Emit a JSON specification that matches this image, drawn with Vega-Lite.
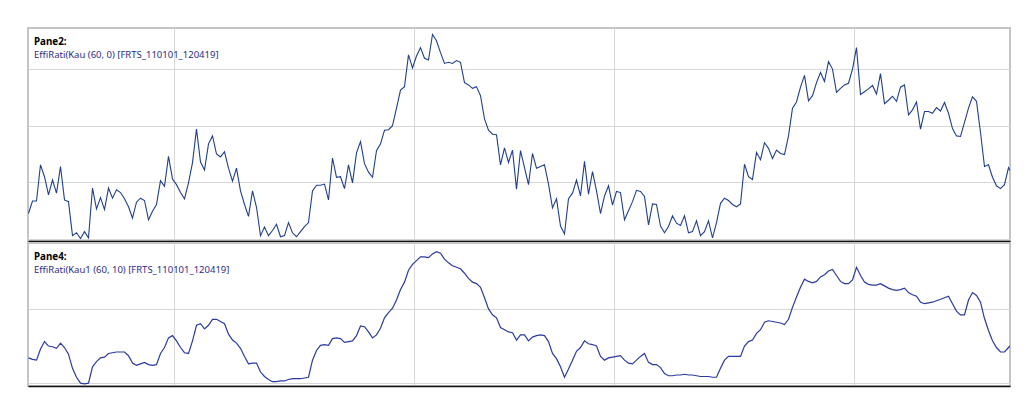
{
  "$schema": "https://vega.github.io/schema/vega-lite/v6.json",
  "background": "white",
  "padding": {"left": 27, "top": 27, "right": 26, "bottom": 29},
  "spacing": 0,
  "config": {
    "view": {"stroke": "#c4c4c4", "strokeWidth": 2},
    "axis": {
      "grid": true,
      "gridColor": "#d7d7d7",
      "gridWidth": 1,
      "labels": false,
      "ticks": false,
      "title": null,
      "minExtent": 0,
      "maxExtent": 0
    },
    "title": {
      "font": "Noto Sans",
      "fontSize": 9.8,
      "fontWeight": "bold",
      "color": "#000000",
      "subtitleFont": "Noto Sans",
      "subtitleFontSize": 9.5,
      "subtitleColor": "#2b2b8a",
      "subtitlePadding": 3,
      "anchor": "start",
      "frame": "group",
      "offset": -31,
      "dx": 6
    }
  },
  "datasets": {
    "effi": [
      {"t":0,"a":0.045,"b":0.034},{"t":1,"a":0.067,"b":0.032},{"t":2,"a":0.067,"b":0.031},{"t":3,"a":0.131,"b":0.046},
      {"t":4,"a":0.110,"b":0.056},{"t":5,"a":0.078,"b":0.050},{"t":6,"a":0.104,"b":0.049},{"t":7,"a":0.081,"b":0.047},
      {"t":8,"a":0.128,"b":0.054},{"t":9,"a":0.069,"b":0.048},{"t":10,"a":0.066,"b":0.039},{"t":11,"a":0.006,"b":0.020},
      {"t":12,"a":0.011,"b":0.008},{"t":13,"a":0.001,"b":0.000},{"t":14,"a":0.013,"b":-0.001},{"t":15,"a":0.002,"b":0.000},
      {"t":16,"a":0.090,"b":0.022},{"t":17,"a":0.053,"b":0.029},{"t":18,"a":0.073,"b":0.034},{"t":19,"a":0.052,"b":0.035},
      {"t":20,"a":0.090,"b":0.040},{"t":21,"a":0.072,"b":0.041},{"t":22,"a":0.087,"b":0.042},{"t":23,"a":0.082,"b":0.042},
      {"t":24,"a":0.071,"b":0.042},{"t":25,"a":0.057,"b":0.037},{"t":26,"a":0.037,"b":0.027},{"t":27,"a":0.065,"b":0.024},
      {"t":28,"a":0.072,"b":0.026},{"t":29,"a":0.068,"b":0.028},{"t":30,"a":0.034,"b":0.025},{"t":31,"a":0.049,"b":0.024},
      {"t":32,"a":0.061,"b":0.025},{"t":33,"a":0.103,"b":0.040},{"t":34,"a":0.093,"b":0.048},{"t":35,"a":0.146,"b":0.061},
      {"t":36,"a":0.106,"b":0.064},{"t":37,"a":0.096,"b":0.057},{"t":38,"a":0.082,"b":0.048},{"t":39,"a":0.071,"b":0.041},
      {"t":40,"a":0.099,"b":0.040},{"t":41,"a":0.135,"b":0.057},{"t":42,"a":0.194,"b":0.078},{"t":43,"a":0.136,"b":0.080},
      {"t":44,"a":0.122,"b":0.073},{"t":45,"a":0.168,"b":0.078},{"t":46,"a":0.182,"b":0.086},{"t":47,"a":0.150,"b":0.086},
      {"t":48,"a":0.145,"b":0.083},{"t":49,"a":0.154,"b":0.080},{"t":50,"a":0.125,"b":0.066},{"t":51,"a":0.102,"b":0.058},
      {"t":52,"a":0.125,"b":0.054},{"t":53,"a":0.085,"b":0.047},{"t":54,"a":0.061,"b":0.036},{"t":55,"a":0.040,"b":0.026},
      {"t":56,"a":0.085,"b":0.027},{"t":57,"a":0.056,"b":0.027},{"t":58,"a":0.006,"b":0.015},{"t":59,"a":0.021,"b":0.009},
      {"t":60,"a":0.006,"b":0.005},{"t":61,"a":0.015,"b":0.002},{"t":62,"a":0.026,"b":0.002},{"t":63,"a":0.004,"b":0.003},
      {"t":64,"a":0.006,"b":0.003},{"t":65,"a":0.029,"b":0.005},{"t":66,"a":0.011,"b":0.006},{"t":67,"a":0.004,"b":0.006},
      {"t":68,"a":0.013,"b":0.006},{"t":69,"a":0.022,"b":0.007},{"t":70,"a":0.029,"b":0.008},{"t":71,"a":0.085,"b":0.031},
      {"t":72,"a":0.095,"b":0.044},{"t":73,"a":0.095,"b":0.051},{"t":74,"a":0.097,"b":0.052},{"t":75,"a":0.069,"b":0.051},
      {"t":76,"a":0.143,"b":0.060},{"t":77,"a":0.109,"b":0.061},{"t":78,"a":0.110,"b":0.060},{"t":79,"a":0.089,"b":0.055},
      {"t":80,"a":0.131,"b":0.056},{"t":81,"a":0.099,"b":0.057},{"t":82,"a":0.152,"b":0.064},{"t":83,"a":0.172,"b":0.077},
      {"t":84,"a":0.133,"b":0.076},{"t":85,"a":0.118,"b":0.069},{"t":86,"a":0.109,"b":0.061},{"t":87,"a":0.156,"b":0.065},
      {"t":88,"a":0.168,"b":0.074},{"t":89,"a":0.192,"b":0.088},{"t":90,"a":0.193,"b":0.095},{"t":91,"a":0.200,"b":0.101},
      {"t":92,"a":0.231,"b":0.112},{"t":93,"a":0.263,"b":0.126},{"t":94,"a":0.269,"b":0.136},{"t":95,"a":0.325,"b":0.152},
      {"t":96,"a":0.302,"b":0.160},{"t":97,"a":0.323,"b":0.165},{"t":98,"a":0.338,"b":0.170},{"t":99,"a":0.319,"b":0.170},
      {"t":100,"a":0.316,"b":0.169},{"t":101,"a":0.361,"b":0.174},{"t":102,"a":0.350,"b":0.177},{"t":103,"a":0.329,"b":0.175},
      {"t":104,"a":0.310,"b":0.167},{"t":105,"a":0.312,"b":0.162},{"t":106,"a":0.310,"b":0.158},{"t":107,"a":0.315,"b":0.156},
      {"t":108,"a":0.312,"b":0.154},{"t":109,"a":0.276,"b":0.148},{"t":110,"a":0.272,"b":0.141},{"t":111,"a":0.266,"b":0.136},
      {"t":112,"a":0.269,"b":0.134},{"t":113,"a":0.253,"b":0.129},{"t":114,"a":0.212,"b":0.115},{"t":115,"a":0.192,"b":0.100},
      {"t":116,"a":0.185,"b":0.092},{"t":117,"a":0.184,"b":0.088},{"t":118,"a":0.131,"b":0.075},{"t":119,"a":0.161,"b":0.072},
      {"t":120,"a":0.135,"b":0.069},{"t":121,"a":0.157,"b":0.068},{"t":122,"a":0.088,"b":0.058},{"t":123,"a":0.156,"b":0.065},
      {"t":124,"a":0.126,"b":0.065},{"t":125,"a":0.096,"b":0.057},{"t":126,"a":0.151,"b":0.062},{"t":127,"a":0.125,"b":0.064},
      {"t":128,"a":0.128,"b":0.065},{"t":129,"a":0.131,"b":0.064},{"t":130,"a":0.097,"b":0.056},{"t":131,"a":0.055,"b":0.040},
      {"t":132,"a":0.071,"b":0.033},{"t":133,"a":0.023,"b":0.022},{"t":134,"a":0.009,"b":0.008},{"t":135,"a":0.071,"b":0.019},
      {"t":136,"a":0.081,"b":0.031},{"t":137,"a":0.104,"b":0.043},{"t":138,"a":0.076,"b":0.048},{"t":139,"a":0.137,"b":0.057},
      {"t":140,"a":0.079,"b":0.053},{"t":141,"a":0.119,"b":0.052},{"t":142,"a":0.085,"b":0.050},{"t":143,"a":0.045,"b":0.036},
      {"t":144,"a":0.076,"b":0.031},{"t":145,"a":0.094,"b":0.034},{"t":146,"a":0.060,"b":0.035},{"t":147,"a":0.084,"b":0.036},
      {"t":148,"a":0.082,"b":0.037},{"t":149,"a":0.034,"b":0.031},{"t":150,"a":0.050,"b":0.027},{"t":151,"a":0.066,"b":0.026},
      {"t":152,"a":0.086,"b":0.031},{"t":153,"a":0.084,"b":0.036},{"t":154,"a":0.075,"b":0.040},{"t":155,"a":0.025,"b":0.028},
      {"t":156,"a":0.062,"b":0.025},{"t":157,"a":0.061,"b":0.025},{"t":158,"a":0.023,"b":0.021},{"t":159,"a":0.011,"b":0.013},
      {"t":160,"a":0.022,"b":0.010},{"t":161,"a":0.041,"b":0.010},{"t":162,"a":0.028,"b":0.011},{"t":163,"a":0.024,"b":0.011},
      {"t":164,"a":0.041,"b":0.012},{"t":165,"a":0.011,"b":0.011},{"t":166,"a":0.013,"b":0.011},{"t":167,"a":0.032,"b":0.010},
      {"t":168,"a":0.006,"b":0.009},{"t":169,"a":0.013,"b":0.009},{"t":170,"a":0.032,"b":0.009},{"t":171,"a":0.002,"b":0.008},
      {"t":172,"a":0.029,"b":0.008},{"t":173,"a":0.063,"b":0.020},{"t":174,"a":0.072,"b":0.031},{"t":175,"a":0.068,"b":0.036},
      {"t":176,"a":0.061,"b":0.036},{"t":177,"a":0.057,"b":0.036},{"t":178,"a":0.062,"b":0.036},{"t":179,"a":0.132,"b":0.050},
      {"t":180,"a":0.110,"b":0.056},{"t":181,"a":0.105,"b":0.058},{"t":182,"a":0.153,"b":0.067},{"t":183,"a":0.140,"b":0.072},
      {"t":184,"a":0.170,"b":0.082},{"t":185,"a":0.160,"b":0.084},{"t":186,"a":0.142,"b":0.083},{"t":187,"a":0.157,"b":0.082},
      {"t":188,"a":0.151,"b":0.081},{"t":189,"a":0.149,"b":0.079},{"t":190,"a":0.182,"b":0.086},{"t":191,"a":0.231,"b":0.102},
      {"t":192,"a":0.242,"b":0.116},{"t":193,"a":0.268,"b":0.129},{"t":194,"a":0.289,"b":0.140},{"t":195,"a":0.244,"b":0.137},
      {"t":196,"a":0.253,"b":0.135},{"t":197,"a":0.276,"b":0.137},{"t":198,"a":0.294,"b":0.143},{"t":199,"a":0.278,"b":0.146},
      {"t":200,"a":0.313,"b":0.151},{"t":201,"a":0.300,"b":0.153},{"t":202,"a":0.259,"b":0.145},{"t":203,"a":0.266,"b":0.137},
      {"t":204,"a":0.272,"b":0.134},{"t":205,"a":0.275,"b":0.134},{"t":206,"a":0.300,"b":0.139},{"t":207,"a":0.338,"b":0.156},
      {"t":208,"a":0.255,"b":0.145},{"t":209,"a":0.260,"b":0.136},{"t":210,"a":0.265,"b":0.133},{"t":211,"a":0.271,"b":0.132},
      {"t":212,"a":0.256,"b":0.132},{"t":213,"a":0.292,"b":0.134},{"t":214,"a":0.239,"b":0.131},{"t":215,"a":0.245,"b":0.128},
      {"t":216,"a":0.252,"b":0.126},{"t":217,"a":0.243,"b":0.125},{"t":218,"a":0.268,"b":0.126},{"t":219,"a":0.272,"b":0.128},
      {"t":220,"a":0.219,"b":0.122},{"t":221,"a":0.228,"b":0.119},{"t":222,"a":0.242,"b":0.117},{"t":223,"a":0.194,"b":0.109},
      {"t":224,"a":0.225,"b":0.107},{"t":225,"a":0.225,"b":0.108},{"t":226,"a":0.222,"b":0.109},{"t":227,"a":0.232,"b":0.111},
      {"t":228,"a":0.226,"b":0.113},{"t":229,"a":0.241,"b":0.115},{"t":230,"a":0.222,"b":0.117},{"t":231,"a":0.195,"b":0.107},
      {"t":232,"a":0.182,"b":0.097},{"t":233,"a":0.181,"b":0.092},{"t":234,"a":0.206,"b":0.092},{"t":235,"a":0.231,"b":0.112},
      {"t":236,"a":0.251,"b":0.122},{"t":237,"a":0.243,"b":0.118},{"t":238,"a":0.188,"b":0.109},{"t":239,"a":0.128,"b":0.087},
      {"t":240,"a":0.131,"b":0.071},{"t":241,"a":0.109,"b":0.057},{"t":242,"a":0.094,"b":0.048},{"t":243,"a":0.089,"b":0.042},
      {"t":244,"a":0.096,"b":0.042},{"t":245,"a":0.126,"b":0.048},{"t":245.375,"a":0.121,"b":0.050}
    ]
  },
  "vconcat": [
    {
      "width": 982,
      "height": 213,
      "data": {"name": "effi"},
      "title": {
        "text": "Pane2:",
        "subtitle": "EffiRati(Kau (60, 0) [FRTS_110101_120419]"
      },
      "mark": {"type": "line", "color": "#203f8c", "strokeWidth": 1.1, "clip": true},
      "encoding": {
        "x": {
          "field": "t",
          "type": "quantitative",
          "scale": {"domain": [-0.125, 245.375], "nice": false, "zero": false},
          "axis": {"values": [36.45, 96.45, 146.45, 206.45], "domain": true, "domainColor": "#111111", "domainWidth": 1.5}
        },
        "y": {
          "field": "a",
          "type": "quantitative",
          "scale": {"domain": [-0.0035, 0.3725], "nice": false, "zero": false},
          "axis": {"values": [0, 0.1, 0.2, 0.3], "domain": false}
        }
      }
    },
    {
      "width": 982,
      "height": 143,
      "data": {"name": "effi"},
      "title": {
        "text": "Pane4:",
        "subtitle": "EffiRati(Kau1 (60, 10) [FRTS_110101_120419]"
      },
      "mark": {"type": "line", "color": "#2b3aa0", "strokeWidth": 1.2, "clip": true},
      "encoding": {
        "x": {
          "field": "t",
          "type": "quantitative",
          "scale": {"domain": [-0.125, 245.375], "nice": false, "zero": false},
          "axis": {"values": [36.45, 96.45, 146.45, 206.45], "domain": true, "domainColor": "#111111", "domainWidth": 1.5}
        },
        "y": {
          "field": "b",
          "type": "quantitative",
          "scale": {"domain": [-0.0038, 0.1887], "nice": false, "zero": false},
          "axis": {"values": [0, 0.1], "domain": false}
        }
      }
    }
  ]
}
